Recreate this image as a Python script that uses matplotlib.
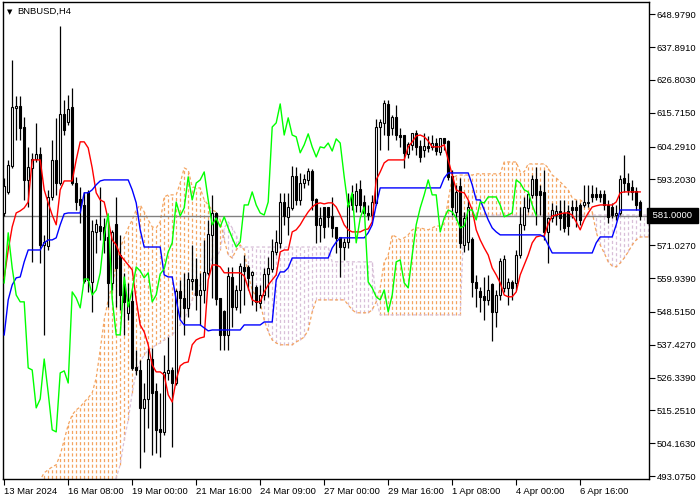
import numpy as np
import matplotlib
matplotlib.use("Agg")
import matplotlib.pyplot as plt

# =========================================================
# BNBUSD H4 - candles + Ichimoku
# =========================================================
opens = [581.9, 589.0, 597.8, 617.35, 618.0, 610.6, 593.05, 597.1, 600.1, 601.8,
         571.1, 570.8, 587.3, 599.5, 592.0, 615.0, 612.6, 617.35, 592.0, 586.3,
         584.6, 588.7, 558.6, 575.5, 577.5, 576.85, 573.8, 558.3, 577.9, 567.7,
         557.6, 548.2, 551.9, 529.9, 528.9, 516.1, 519.1, 532.6, 521.5, 508.7,
         508.0, 527.9, 528.6, 524.5, 555.25, 553.2, 549.85, 559.0, 559.6, 554.2,
         555.9, 561.7, 574.5, 581.9, 552.9, 548.5, 540.75, 560.0, 550.2, 555.9,
         563.35, 563.35, 561.0, 556.6, 551.5, 554.2, 561.3, 563.0, 568.75, 571.8,
         585.6, 580.6, 583.6, 594.1, 586.3, 592.0, 593.05, 595.75, 586.3, 577.9,
         583.6, 583.6, 580.6, 576.85, 573.5, 570.4, 572.1, 588.0, 584.6, 589.7,
         585.6, 581.9, 581.2, 585.3, 610.9, 612.3, 618.4, 610.6, 614.0, 608.2,
         607.9, 601.8, 604.9, 608.6, 604.2, 603.2, 604.2, 604.2, 605.5, 602.5,
         606.9, 605.9, 594.1, 582.25, 590.7, 571.1, 572.1, 573.1, 558.6, 555.25,
         553.6, 552.55, 557.6, 548.5, 554.2, 556.6, 556.6, 558.3, 558.3, 567.7,
         577.9, 583.6, 588.0, 593.05, 589.0, 588.7, 575.5, 580.2, 581.2, 582.25,
         581.9, 582.25, 583.9, 583.9, 584.6, 584.6, 585.6, 588.0, 588.0, 588.0,
         588.0, 584.6, 583.9, 581.2, 581.9, 593.7, 592.0, 590.35, 589.0, 585.3]
highs = [593.7, 599.8, 633.55, 621.4, 621.4, 614.3, 604.2, 602.2, 612.3, 604.2,
         574.5, 589.7, 606.55, 614.0, 645.0, 620.05, 621.7, 624.1, 594.1, 590.7,
         589.0, 589.7, 579.55, 579.9, 590.7, 580.2, 580.6, 576.2, 587.3, 574.5,
         561.7, 558.3, 555.9, 535.7, 532.3, 524.5, 536.35, 536.35, 524.5, 521.2,
         534.0, 540.05, 529.9, 556.3, 559.3, 561.7, 562.0, 571.1, 566.7, 561.7,
         572.8, 579.55, 588.0, 582.25, 553.2, 549.2, 563.7, 563.7, 557.6, 565.0,
         567.7, 564.35, 562.3, 557.6, 557.6, 563.35, 567.1, 573.1, 576.2, 588.7,
         588.7, 588.7, 597.8, 597.4, 595.4, 595.1, 597.1, 596.8, 587.0, 583.9,
         583.9, 583.9, 587.3, 577.2, 573.8, 573.5, 588.7, 591.4, 592.0, 593.05,
         588.0, 584.6, 588.0, 613.6, 613.6, 620.05, 620.05, 615.0, 618.4, 610.6,
         607.9, 605.9, 608.9, 609.9, 606.55, 608.9, 607.9, 608.2, 607.2, 607.2,
         607.2, 606.55, 596.4, 591.4, 593.7, 582.25, 586.3, 573.8, 561.0, 556.9,
         560.3, 561.0, 558.3, 555.9, 566.7, 567.7, 560.0, 559.3, 569.4, 583.9,
         587.3, 589.0, 594.7, 597.4, 591.4, 596.4, 580.6, 585.3, 584.6, 586.3,
         586.3, 584.6, 586.3, 586.3, 585.3, 591.4, 591.4, 591.4, 590.7, 589.7,
         589.7, 586.3, 585.3, 584.6, 594.7, 601.5, 595.4, 593.05, 590.7, 586.3]
lows = [580.9, 588.3, 597.1, 606.55, 606.55, 586.3, 583.9, 565.4, 599.1, 565.0,
        540.75, 569.4, 586.3, 588.0, 591.4, 608.2, 611.6, 591.4, 582.9, 578.5,
        558.3, 555.25, 548.5, 568.4, 572.8, 568.4, 550.2, 555.9, 550.2, 549.2,
        540.75, 545.8, 528.9, 527.2, 495.85, 501.25, 509.35, 500.2, 500.9, 499.6,
        507.0, 525.55, 502.9, 523.9, 546.8, 540.75, 546.8, 555.9, 549.2, 544.1,
        551.5, 561.0, 553.2, 550.9, 535.7, 535.7, 535.7, 543.4, 549.2, 548.2,
        550.9, 555.9, 550.9, 548.8, 549.85, 552.55, 553.6, 562.0, 567.7, 570.1,
        577.9, 574.5, 582.9, 584.6, 584.6, 590.35, 591.4, 582.9, 571.8, 572.1,
        573.5, 577.2, 573.8, 568.4, 560.3, 566.05, 570.1, 582.9, 582.25, 582.25,
        581.2, 579.55, 580.2, 584.6, 603.2, 608.2, 603.2, 608.2, 606.55, 604.2,
        597.1, 600.5, 603.2, 601.5, 599.1, 600.8, 602.5, 603.2, 601.5, 601.5,
        603.2, 593.05, 581.2, 579.55, 570.1, 568.75, 569.4, 553.6, 550.2, 548.5,
        545.8, 550.9, 538.7, 543.4, 552.55, 555.25, 550.9, 552.55, 555.9, 566.7,
        576.2, 582.25, 587.0, 577.9, 581.2, 572.8, 565.0, 578.9, 577.9, 576.2,
        575.5, 574.5, 580.2, 577.2, 577.9, 583.9, 583.9, 585.6, 586.3, 585.6,
        582.9, 578.5, 580.2, 579.55, 581.2, 589.0, 588.0, 586.3, 582.9, 579.55]
closes = [591.0, 598.1, 617.35, 618.0, 610.6, 593.05, 597.1, 600.1, 601.8, 571.1,
          571.8, 587.3, 599.5, 592.0, 615.0, 609.9, 617.0, 592.0, 585.6, 584.6,
          559.0, 559.3, 575.5, 577.9, 575.8, 572.8, 558.3, 575.2, 563.35, 554.2,
          551.9, 551.9, 529.6, 528.9, 516.1, 519.1, 532.6, 521.2, 508.7, 508.0,
          527.9, 528.6, 524.5, 555.25, 553.2, 549.85, 559.6, 559.6, 554.2, 555.9,
          561.7, 574.5, 581.6, 552.9, 540.75, 540.75, 560.3, 550.2, 555.9, 563.7,
          562.3, 560.0, 561.7, 551.9, 554.2, 561.3, 563.0, 568.75, 571.8, 585.6,
          580.9, 583.6, 594.1, 586.3, 592.0, 593.05, 595.75, 586.3, 577.9, 580.2,
          577.2, 580.6, 576.85, 573.5, 570.4, 572.1, 584.6, 584.6, 589.0, 584.6,
          581.9, 581.2, 585.6, 610.9, 612.3, 618.7, 608.2, 614.0, 608.2, 607.6,
          602.2, 604.9, 608.6, 604.2, 600.8, 604.2, 603.85, 605.5, 602.8, 606.9,
          605.5, 594.1, 583.9, 588.7, 571.8, 580.2, 583.9, 558.6, 556.6, 553.6,
          552.55, 555.9, 548.5, 554.2, 565.4, 566.05, 558.3, 556.6, 567.7, 577.9,
          583.6, 588.0, 593.05, 588.0, 588.0, 575.5, 580.2, 582.9, 582.25, 580.2,
          576.85, 577.5, 582.9, 582.9, 579.55, 585.6, 585.3, 587.3, 587.3, 587.3,
          584.6, 580.6, 581.2, 581.9, 593.05, 592.0, 589.7, 589.0, 584.6, 581.0]

tenkan = [560.0, 569.4, 577.2, 581.9, 582.6, 583.6, 585.6, 599.8, 599.8, 599.8,
          589.7, 585.3, 581.2, 577.9, 589.7, 592.7, 592.7, 592.7, 599.8, 605.9,
          605.9, 603.85, 597.1, 588.7, 586.3, 585.6, 579.55, 572.8, 571.1, 567.7,
          566.05, 564.35, 562.7, 552.55, 544.1, 541.75, 537.4, 530.6, 528.25, 528.25,
          527.2, 520.5, 518.1, 525.55, 530.3, 531.3, 531.6, 537.4, 539.05, 539.7,
          540.05, 559.3, 564.35, 564.35, 563.7, 561.7, 561.7, 561.7, 561.7, 561.7,
          560.65, 556.6, 552.55, 551.9, 551.9, 555.25, 557.6, 559.3, 561.0, 568.75,
          569.4, 569.4, 575.5, 576.2, 577.9, 580.2, 582.25, 583.9, 584.95, 585.3,
          584.95, 585.3, 585.3, 583.9, 581.2, 577.9, 576.2, 575.5, 575.5, 575.5,
          576.2, 576.5, 578.9, 593.05, 595.75, 598.8, 599.8, 599.8, 599.8, 599.8,
          599.8, 604.2, 605.9, 607.9, 608.2, 607.6, 606.2, 604.2, 604.2, 604.2,
          604.9, 599.8, 594.7, 589.7, 589.0, 588.7, 586.3, 582.9, 576.2, 572.8,
          570.1, 567.7, 563.35, 561.0, 558.3, 554.2, 553.6, 553.6, 555.25, 561.0,
          564.35, 567.7, 571.8, 573.8, 574.15, 574.15, 578.2, 580.9, 581.2, 581.6,
          581.9, 581.9, 581.2, 578.9, 576.2, 579.55, 581.9, 583.9, 584.3, 584.6,
          584.6, 584.6, 584.6, 585.6, 588.7, 589.0, 589.0, 589.0, 589.0, 589.0]
kijun = [540.75, 552.55, 557.6, 560.0, 560.3, 565.4, 569.4, 569.4, 569.4, 569.4,
         571.8, 572.8, 572.8, 573.5, 577.9, 581.6, 581.9, 581.9, 581.9, 581.9,
         588.7, 588.7, 589.7, 591.4, 592.7, 593.05, 593.05, 593.05, 593.05, 593.05,
         593.05, 593.05, 589.7, 585.3, 576.2, 570.4, 570.4, 570.4, 570.4, 570.4,
         561.0, 560.3, 560.3, 552.55, 545.8, 544.1, 544.1, 544.1, 544.1, 544.1,
         543.1, 542.1, 542.4, 542.4, 542.4, 542.4, 542.4, 542.4, 542.4, 542.4,
         544.1, 544.1, 544.1, 544.1, 544.1, 545.1, 545.1, 545.1, 559.3, 562.0,
         562.0, 563.35, 566.7, 566.7, 566.7, 566.7, 566.7, 566.7, 566.7, 566.7,
         566.7, 566.7, 570.1, 572.1, 573.5, 573.5, 573.5, 573.5, 573.5, 573.5,
         573.5, 575.2, 577.9, 584.6, 590.35, 590.35, 590.35, 590.35, 590.35, 590.35,
         590.35, 590.35, 590.35, 590.35, 590.35, 590.35, 590.35, 590.35, 590.35, 590.35,
         593.7, 595.4, 595.4, 595.4, 595.4, 595.4, 595.4, 591.4, 586.3, 586.3,
         582.9, 579.55, 576.85, 575.5, 574.5, 574.5, 574.5, 574.5, 574.5, 574.5,
         574.5, 574.5, 574.5, 574.5, 574.5, 573.8, 571.1, 568.4, 568.4, 568.4,
         568.4, 568.4, 568.4, 568.4, 568.4, 568.4, 568.4, 568.4, 571.8, 573.8,
         573.8, 573.8, 573.8, 577.9, 582.9, 582.9, 582.9, 582.9, 582.9, 582.9]
senkou_a = [474.9, 476.6, 478.3, 480.0, 481.7, 483.4, 485.05, 486.75, 489.1, 491.8,
            494.2, 495.2, 496.2, 496.9, 500.2, 505.3, 510.4, 513.75, 515.45, 516.4,
            518.1, 519.5, 521.2, 526.2, 535.7, 545.8, 552.55, 557.6, 564.35, 570.1,
            573.5, 576.85, 579.55, 582.9, 584.6, 582.25, 579.55, 577.2, 576.85, 578.9,
            587.3, 588.0, 588.0, 588.0, 592.0, 597.1, 596.4, 590.7, 590.35, 590.35,
            586.3, 584.6, 582.9, 582.25, 579.55, 572.8, 567.7, 566.7, 569.4, 571.1,
            569.4, 561.0, 555.9, 553.6, 551.5, 545.8, 541.75, 539.05, 538.0, 537.4,
            537.4, 537.4, 537.4, 538.4, 539.05, 540.05, 542.4, 548.5, 552.55, 552.55,
            552.55, 552.55, 552.55, 552.55, 552.55, 552.55, 550.9, 549.2, 548.2, 548.2,
            548.2, 548.2, 549.2, 551.9, 556.6, 565.4, 567.7, 574.5, 573.8, 572.8,
            573.5, 574.5, 576.2, 576.85, 576.85, 576.5, 576.2, 576.85, 577.5, 577.5,
            578.2, 586.3, 593.7, 594.4, 594.7, 594.7, 594.7, 594.7, 595.1, 595.1,
            595.1, 595.1, 595.1, 595.1, 595.1, 599.1, 599.1, 599.1, 599.1, 595.75,
            595.75, 598.45, 598.45, 598.45, 598.45, 598.45, 597.1, 594.7, 593.7, 592.4,
            591.0, 589.7, 587.0, 586.3, 586.3, 585.3, 583.9, 582.25, 575.5, 571.1,
            568.4, 565.4, 564.0, 563.7, 565.0, 566.7, 568.75, 571.1, 572.8, 573.8,
            573.8, 573.8]
senkou_b = [460.0] * 27 + [
            488.4, 492.5, 496.9, 505.3, 512.0, 521.2, 528.25, 531.6, 534.0, 535.7,
            536.35, 537.4, 538.0, 539.05, 540.05, 540.75, 542.4, 544.1, 545.8, 549.2,
            552.55, 555.9, 557.6, 559.3, 562.7, 566.7, 566.7, 569.4, 576.85, 578.9,
            576.85, 574.5] + [570.4] * 23 + [565.4] * 11 + [552.55] + [547.5] * 21 + [581.2] * 47

price_ticks = [648.9790, 637.8910, 626.8030, 615.7150, 604.2910, 593.2030,
               571.0270, 559.9390, 548.5150, 537.4270, 526.3390, 515.2510,
               504.1630, 493.0750]
time_ticks = [0, 16, 32, 48, 64, 80, 96, 112, 128, 144]
time_labels = ["13 Mar 2024", "16 Mar 08:00", "19 Mar 00:00", "21 Mar 16:00",
               "24 Mar 09:00", "27 Mar 00:00", "29 Mar 16:00", "1 Apr 08:00",
               "4 Apr 00:00", "6 Apr 16:00"]
last_price = 581.0
chikou_shift = 26

o = np.array(opens)
h = np.array(highs)
l = np.array(lows)
c = np.array(closes)
n = len(c)
x = np.arange(n)

plt.rcParams['font.family'] = ['Liberation Sans', 'DejaVu Sans']
fig = plt.figure(figsize=(7, 5), dpi=100)
ax = fig.add_axes([3/700, 21/500, 646/700, 477/500])

# ---- nuage (histogramme pointillé) ----
sa = np.array(senkou_a)
sb = np.array(senkou_b)
xc = np.arange(len(sa))
col = np.where(sa >= sb, "#f4a460", "#d8bfd8")
ax.vlines(xc, np.minimum(sa, sb), np.maximum(sa, sb), colors=col,
          linestyles=(0, (2.5, 2)), lw=0.9, zorder=1)
ax.plot(xc, sa, color="#f4a460", lw=0.9, ls=(0, (2.5, 2)), zorder=2)
ax.plot(xc, sb, color="#d8bfd8", lw=0.9, ls=(0, (2.5, 2)), zorder=2)

# ---- prix courant ----
ax.axhline(last_price, color="#808080", lw=1, zorder=2)

# ---- bougies ----
up = c >= o
ax.vlines(x, l, h, color="black", lw=0.9, zorder=4)
ax.bar(x, np.abs(c - o) + 0.15, bottom=np.minimum(o, c), width=0.55,
       color=np.where(up, "white", "black"), edgecolor="black", lw=0.8, zorder=5)

# ---- Ichimoku ----
ax.plot(x, tenkan, color="#ff0000", lw=1, zorder=6)
ax.plot(x, kijun, color="#0000ff", lw=1, zorder=6)
ax.plot(x[:n - chikou_shift], c[chikou_shift:], color="#00ff00", lw=1, zorder=6)

ax.set_xlim(-0.3, 161.2)
ax.set_ylim(492.1, 653.1)

for s in ax.spines.values():
    s.set_color("black")
    s.set_linewidth(1)

ax.yaxis.tick_right()
ax.set_yticks(price_ticks)
ax.set_yticklabels([f"{v:.4f}" for v in price_ticks])
ax.tick_params(axis="y", direction="out", length=4, width=0.8, pad=1.5,
               labelsize=6.8, colors="black")
ax.set_xticks(time_ticks)
ax.set_xticklabels(time_labels)
ax.tick_params(axis="x", direction="out", length=4, width=0.8, pad=1.5,
               labelsize=6.8)
for lab in ax.get_xticklabels():
    lab.set_horizontalalignment("left")

ax.text(1.002, last_price, f" {last_price:.4f} ", transform=ax.get_yaxis_transform(),
        ha="left", va="center", fontsize=6.8, color="white", zorder=10,
        bbox=dict(boxstyle="square,pad=0.3", fc="black", ec="black"))
ax.text(0.006, 0.986, "\u25bc", transform=ax.transAxes, ha="left", va="top",
        fontsize=5, color="black", family="DejaVu Sans")
ax.text(0.022, 0.989, "BNBUSD,H4", transform=ax.transAxes, ha="left", va="top",
        fontsize=6.8, color="black")

plt.savefig("out.png", dpi=100)
